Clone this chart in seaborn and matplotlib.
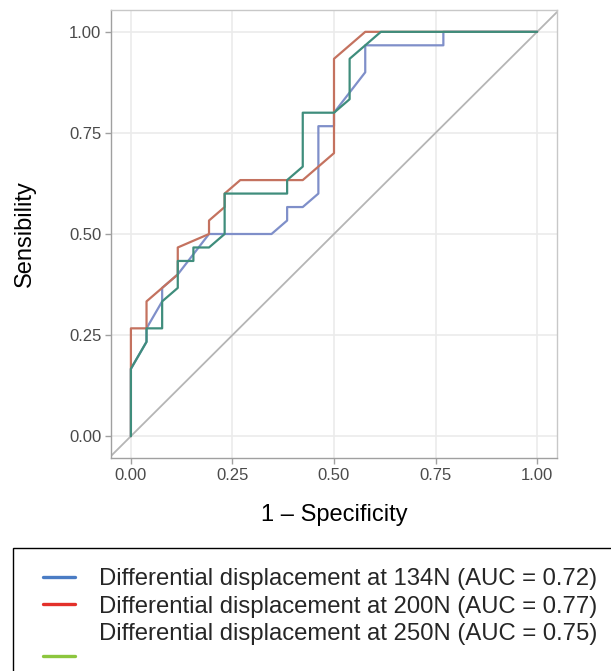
import numpy as np
import pandas as pd
import matplotlib
matplotlib.use("Agg")
import matplotlib.pyplot as plt
from matplotlib.lines import Line2D
from matplotlib.patches import Rectangle
from matplotlib.legend_handler import HandlerLine2D
import seaborn as sns

# ---- data (ROC step points; counts of negatives / positives) ----
N_NEG = 26
N_POS = 30

fp_134 = [0, 0, 1, 1, 2, 2, 3, 5, 9, 10, 10, 11, 12, 12, 13, 13, 15, 15, 20, 20, 26]
tp_134 = [0, 5, 7, 8, 10, 11, 12, 15, 15, 16, 17, 17, 18, 23, 23, 24, 27, 29, 29, 30, 30]

fp_200 = [0, 0, 1, 1, 2, 3, 3, 5, 5, 6, 6, 7, 11, 13, 13, 15, 26]
tp_200 = [0, 8, 8, 10, 11, 12, 14, 15, 16, 17, 18, 19, 19, 21, 28, 30, 30]

fp_250 = [0, 0, 1, 1, 2, 2, 3, 3, 4, 4, 5, 6, 6, 10, 10, 11, 11, 13, 14, 14, 16, 26]
tp_250 = [0, 5, 7, 8, 8, 10, 11, 13, 13, 14, 14, 15, 18, 18, 19, 20, 24, 24, 25, 28, 30, 30]

series_names = [
    "Differential displacement at 134N (AUC = 0.72)",
    "Differential displacement at 200N (AUC = 0.77)",
    "Differential displacement at 250N (AUC = 0.75)",
]
tick_values = [0.0, 0.25, 0.5, 0.75, 1.0]
tick_labels = ["0.00", "0.25", "0.50", "0.75", "1.00"]
x_label = "1 \u2013 Specificity"
y_label = "Sensibility"

line_colors = ["#7f8fc9", "#c4725f", "#3f8d7c"]
legend_colors = ["#4a7cc4", "#e3302a", "#8cc63e"]

# ---- build long table ----
frames = []
for name, fp, tp in zip(series_names, [fp_134, fp_200, fp_250], [tp_134, tp_200, tp_250]):
    frames.append(pd.DataFrame({
        "fpr": np.array(fp) / N_NEG,
        "tpr": np.array(tp) / N_POS,
        "series": name,
    }))
df = pd.concat(frames, ignore_index=True)

sns.set_theme(style="whitegrid")
plt.rcParams["font.family"] = ["Liberation Sans", "DejaVu Sans"]

fig = plt.figure(figsize=(6.11, 6.71), dpi=100)
ax = fig.add_axes([111 / 611, 1 - 458 / 671, 446 / 611, 448 / 671])
ax.set_facecolor("white")

# diagonal reference
ax.axline((0, 0), (1, 1), color="#b5b5b5", lw=1.3, zorder=1)

sns.lineplot(data=df, x="fpr", y="tpr", hue="series", hue_order=series_names,
             palette=line_colors, estimator=None, sort=False, lw=1.6,
             legend=False, ax=ax, zorder=3)

ax.set_xlim(-0.049, 1.049)
ax.set_ylim(-0.054, 1.054)
ax.set_xticks(tick_values)
ax.set_xticklabels(tick_labels)
ax.set_yticks(tick_values)
ax.set_yticklabels(tick_labels)
ax.grid(True, color="#ebebeb", lw=1.2)
for s in ax.spines.values():
    s.set_color("#c8c8c8")
    s.set_linewidth(1.0)
ax.spines["left"].set_color("#a0a0a0")
ax.spines["bottom"].set_color("#a0a0a0")
ax.tick_params(axis="both", which="major", length=4, width=1, color="#a0a0a0",
               labelsize=12, labelcolor="#4a4a4a", pad=3, bottom=True, left=True)

ax.set_xlabel(x_label, fontsize=17, color="black")
ax.set_ylabel(y_label, fontsize=17, color="black")
ax.xaxis.label.set_va("center")
ax.yaxis.label.set_va("center")
ax.xaxis.set_label_coords(0.5, (458 - 515) / 448)
ax.yaxis.set_label_coords((25 - 111) / 446, 0.5)


class OffsetLineHandler(HandlerLine2D):
    """Legend line drawn lower than its label row (as in the reference)."""
    def __init__(self, dy_pts, **kw):
        super().__init__(**kw)
        self.dy_pts = dy_pts

    def create_artists(self, legend, orig_handle, xdescent, ydescent, width,
                       height, fontsize, trans):
        return super().create_artists(legend, orig_handle, xdescent,
                                      ydescent + 2 * self.dy_pts, width, height,
                                      fontsize, trans)


# legend box (cut by the figure edge, as in the reference)
fig.patches.append(Rectangle((13 / 611, -0.2), 1.2, 0.2 + (671 - 548) / 671,
                             transform=fig.transFigure, fill=False,
                             edgecolor="black", lw=1.0))
handles = [Line2D([], [], color=c, lw=2.4) for c in legend_colors]
fig.legend(handles, series_names, loc="upper left",
           bbox_to_anchor=(43 / 611, 1 - 568 / 671), frameon=False,
           fontsize=17.2, handlelength=1.36, handletextpad=1.0,
           labelspacing=0.24, borderpad=0, borderaxespad=0,
           handler_map={handles[2]: OffsetLineHandler(dy_pts=17)})

fig.savefig("out.png", dpi=100)
